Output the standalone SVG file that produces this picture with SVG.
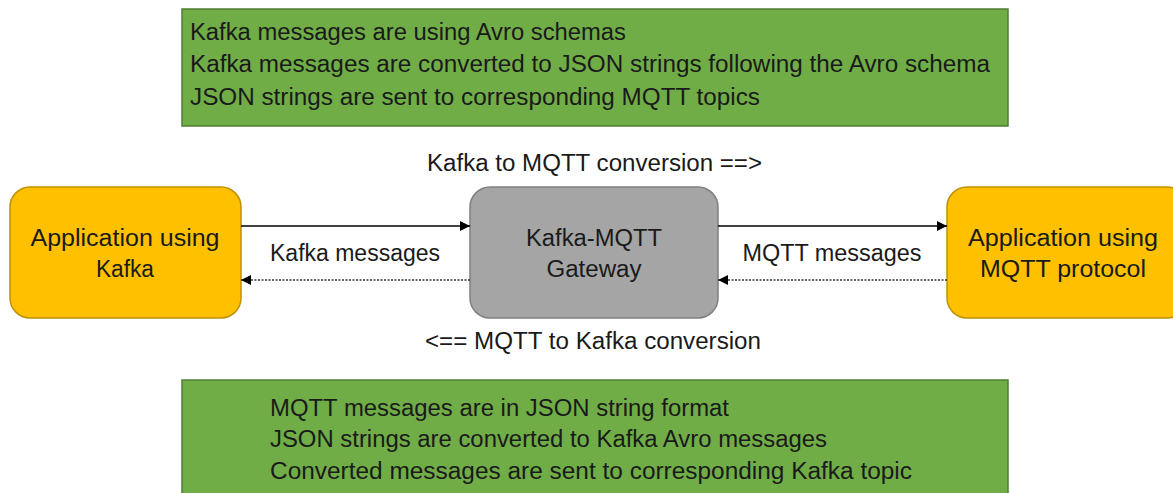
<svg xmlns="http://www.w3.org/2000/svg" width="1173" height="493" viewBox="0 0 1173 493">
<style>
text{font-family:"Liberation Sans",Arial,sans-serif;fill:#1a1a1a}
.note{fill:#70AD47;stroke:#507E32;stroke-width:1.5}
.app{fill:#FFC000;stroke:#BF9000;stroke-width:1.5}
.gw{fill:#A5A5A5;stroke:#7F7F7F;stroke-width:1.5}
.t22{font-size:23px}
.solid{stroke:#000;stroke-width:1.5;fill:none}
.dot{stroke:#333;stroke-width:1.5;stroke-dasharray:2 1.5;fill:none}
</style>
<defs>
<marker id="ah" viewBox="0 0 10 10" refX="10" refY="5" markerWidth="10" markerHeight="10" orient="auto-start-reverse" markerUnits="userSpaceOnUse">
<path d="M0,0 L10,5 L0,10 z" fill="#000"/>
</marker>
</defs>
<rect width="1173" height="493" fill="#fff"/>
<g id="note-top">
<rect class="note" x="182" y="9" width="826" height="117"/>
<text class="t22" x="190" y="40" textLength="436" lengthAdjust="spacingAndGlyphs">Kafka messages are using Avro schemas</text>
<text class="t22" x="190" y="72" textLength="800" lengthAdjust="spacingAndGlyphs">Kafka messages are converted to JSON strings following the Avro schema</text>
<text class="t22" x="190" y="105" textLength="570" lengthAdjust="spacingAndGlyphs">JSON strings are sent to corresponding MQTT topics</text>
</g>
<g id="note-bottom">
<rect class="note" x="182" y="380" width="826" height="120"/>
<text class="t22" x="270" y="416" textLength="459" lengthAdjust="spacingAndGlyphs">MQTT messages are in JSON string format</text>
<text class="t22" x="270" y="447" textLength="557" lengthAdjust="spacingAndGlyphs">JSON strings are converted to Kafka Avro messages</text>
<text class="t22" x="270" y="479" textLength="642" lengthAdjust="spacingAndGlyphs">Converted messages are sent to corresponding Kafka topic</text>
</g>
<g id="label-k2m">
<text class="t22" x="427" y="171" textLength="335" lengthAdjust="spacingAndGlyphs">Kafka to MQTT conversion ==&gt;</text>
</g>
<g id="label-m2k">
<text class="t22" x="425" y="349" textLength="336" lengthAdjust="spacingAndGlyphs">&lt;== MQTT to Kafka conversion</text>
</g>
<g id="app-kafka">
<rect class="app" x="10" y="187" width="231" height="131" rx="20" ry="20"/>
<text class="t22" x="125" y="246" text-anchor="middle" textLength="189" lengthAdjust="spacingAndGlyphs">Application using</text>
<text class="t22" x="125" y="277" text-anchor="middle" textLength="58" lengthAdjust="spacingAndGlyphs">Kafka</text>
</g>
<g id="gateway">
<rect class="gw" x="470" y="187" width="248" height="131" rx="20" ry="20"/>
<text class="t22" x="594" y="246" text-anchor="middle" textLength="136" lengthAdjust="spacingAndGlyphs">Kafka-MQTT</text>
<text class="t22" x="594" y="277" text-anchor="middle" textLength="95" lengthAdjust="spacingAndGlyphs">Gateway</text>
</g>
<g id="app-mqtt">
<rect class="app" x="947" y="187" width="240" height="131" rx="20" ry="20"/>
<text class="t22" x="1063" y="246" text-anchor="middle" textLength="190" lengthAdjust="spacingAndGlyphs">Application using</text>
<text class="t22" x="1063" y="277" text-anchor="middle" textLength="166" lengthAdjust="spacingAndGlyphs">MQTT protocol</text>
</g>
<g id="connectors">
<line class="solid" x1="241" y1="226" x2="470" y2="226" marker-end="url(#ah)"/>
<line class="dot" x1="470" y1="280" x2="241" y2="280" marker-end="url(#ah)"/>
<line class="solid" x1="718" y1="226" x2="947" y2="226" marker-end="url(#ah)"/>
<line class="dot" x1="947" y1="280" x2="718" y2="280" marker-end="url(#ah)"/>
<text class="t22" x="355" y="261" text-anchor="middle" textLength="170" lengthAdjust="spacingAndGlyphs">Kafka messages</text>
<text class="t22" x="832" y="261" text-anchor="middle" textLength="179" lengthAdjust="spacingAndGlyphs">MQTT messages</text>
</g>
</svg>
